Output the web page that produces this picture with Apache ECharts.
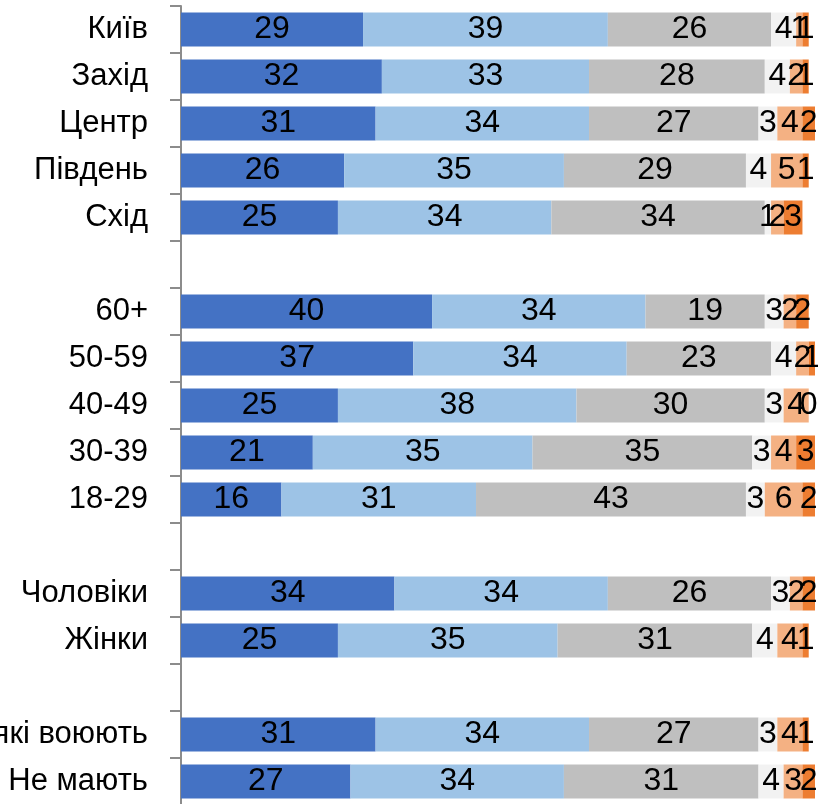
<!DOCTYPE html>
<html><head><meta charset="utf-8">
<script src="https://cdn.jsdelivr.net/npm/echarts@6/dist/echarts.min.js"></script>
<style>html,body{margin:0;padding:0;background:#fff}#c{width:818px;height:804px}</style>
</head><body><div id="c"></div>
<script>
const categories = ['Київ','Захід','Центр','Південь','Схід',' ','60+','50-59','40-49','30-39','18-29','  ','Чоловіки','Жінки','   ','Мають рідних, які воюють','Не мають'];
const s1 = [29,32,31,26,25,null,40,37,25,21,16,null,34,25,null,31,27];
const s2 = [39,33,34,35,34,null,34,34,38,35,31,null,34,35,null,34,34];
const s3 = [26,28,27,29,34,null,19,23,30,35,43,null,26,31,null,27,31];
const s4 = [4,4,3,4,1,null,3,4,3,3,3,null,3,4,null,3,4];
const s5 = [1,2,4,5,2,null,2,2,4,4,6,null,2,4,null,4,3];
const s6 = [1,1,2,1,3,null,2,1,0,3,2,null,2,1,null,1,2];
const colors = ['#4472C4','#9DC3E6','#BFBFBF','#F2F2F2','#F4B183','#ED7D31'];
const FONT = '"Liberation Sans",Arial,sans-serif';
const chart = echarts.init(document.getElementById('c'));
const mk = (d,i) => ({
  type:'bar', stack:'a', data:d, barWidth:34,
  itemStyle:{color:colors[i]},
  label:{show:true, position:'inside', color:'#000', fontFamily:FONT, fontSize:32,
    formatter:p=>p.value==null?'':String(p.value)},
  emphasis:{disabled:true}, animation:false
});
chart.setOption({
  animation:false,
  grid:{left:181, right:3, top:6, height:799, containLabel:false, outerBoundsMode:'none'},
  xAxis:{type:'value', min:0, max:101, show:false},
  yAxis:{type:'category', inverse:true, data:categories,
    axisLine:{show:true, lineStyle:{color:'#8C8C8C', width:2}},
    axisTick:{show:true, length:11, lineStyle:{color:'#8C8C8C', width:2}},
    axisLabel:{color:'#000', fontFamily:FONT, fontSize:31, margin:33}},
  series:[s1,s2,s3,s4,s5,s6].map(mk)
});
</script></body></html>
